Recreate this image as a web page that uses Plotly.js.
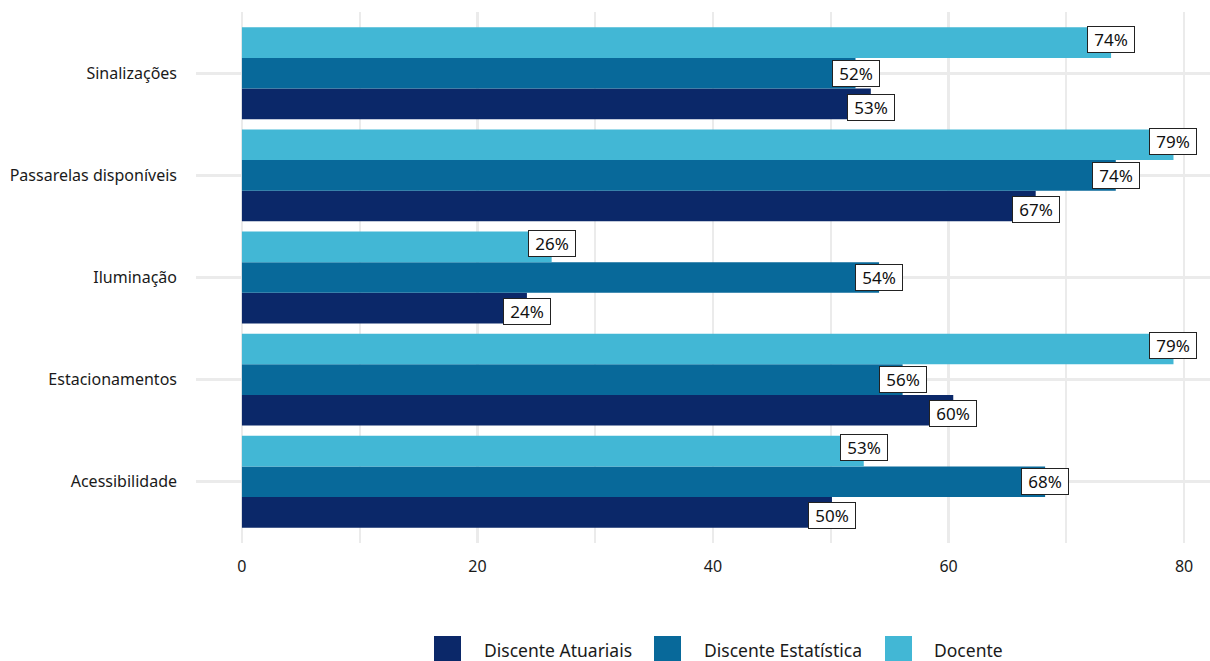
<!DOCTYPE html>
<html>
<head>
<meta charset="utf-8">
<script src="https://cdn.plot.ly/plotly-3.0.1.min.js"></script>
<style>html,body{margin:0;padding:0;background:#fff;}#chart{width:1210px;height:661px;}</style>
</head>
<body>
<div id="chart"></div>
<script>
// Data
const categories = ["Acessibilidade", "Estacionamentos", "Iluminação", "Passarelas disponíveis", "Sinalizações"];
const seriesNames = ["Discente Atuariais", "Discente Estatística", "Docente"];
const atuariais   = [50.1, 60.4, 24.2, 67.4, 53.4];
const estatistica = [68.2, 56.1, 54.1, 74.2, 52.1];
const docente     = [52.8, 79.1, 26.3, 79.1, 73.8];
const xTicks = [0, 20, 40, 60, 80];

const seriesValues = [atuariais, estatistica, docente];
const colors = ["#0b2869", "#08699a", "#42b7d5"];
const FONT = "Noto Sans, sans-serif";

const traces = seriesValues.map((vals, i) => ({
  type: "bar",
  orientation: "h",
  name: seriesNames[i],
  y: categories,
  x: vals,
  marker: {color: colors[i], line: {width: 0}},
  hoverinfo: "x+y+name",
  showlegend: false
}));

// plot area in pixels (for legend placement helpers)
const W = 1210, H = 661, ML = 196, MR = 0, MT = 12, MB = 118;
const pw = W - ML - MR, ph = H - MT - MB;
const px = v => (v - ML) / pw;
const py = v => (H - MB - v) / ph;

const annotations = [];
const offsets = [-1/3, 0, 1/3];
seriesValues.forEach((vals, i) => {
  vals.forEach((v, j) => {
    annotations.push({
      x: v, y: j + offsets[i], xref: "x", yref: "y",
      text: Math.round(v) + "%",
      showarrow: false,
      font: {family: FONT, size: 17, color: "#111"},
      bgcolor: "#ffffff",
      bordercolor: "#222",
      borderwidth: 1,
      borderpad: 3,
      width: 40, height: 19,
      xanchor: "center", yanchor: "middle"
    });
  });
});

// manual legend
const legendSquares = [434, 654, 885];
const legendText = [482, 702, 932];
const shapes = [];
seriesNames.forEach((n, i) => {
  shapes.push({
    type: "rect", xref: "paper", yref: "paper",
    x0: px(legendSquares[i]), x1: px(legendSquares[i] + 27),
    y0: py(636), y1: py(663),
    fillcolor: colors[i], line: {width: 0}, layer: "above"
  });
  annotations.push({
    xref: "paper", yref: "paper",
    x: px(legendText[i]), y: py(650),
    xanchor: "left", yanchor: "middle",
    text: n, showarrow: false,
    font: {family: FONT, size: 17.5, color: "#1a1a1a"}
  });
});

const layout = {
  width: W, height: H,
  margin: {l: ML, r: MR, t: MT, b: MB, pad: 0},
  paper_bgcolor: "#fff",
  plot_bgcolor: "#fff",
  barmode: "group",
  bargap: 0.1,
  bargroupgap: 0,
  showlegend: false,
  font: {family: FONT, color: "#1a1a1a"},
  xaxis: {
    range: [-3.9, 82.2],
    tickvals: xTicks,
    ticktext: xTicks.map(String),
    showgrid: true, gridcolor: "#ebebeb", gridwidth: 2.5,
    minor: {dtick: 10, tick0: 0, showgrid: true, gridcolor: "#ebebeb", gridwidth: 2},
    zeroline: false, showline: false, ticks: "",
    ticklabelstandoff: 12,
    tickfont: {family: FONT, size: 16, color: "#1a1a1a"},
    fixedrange: true
  },
  yaxis: {
    type: "category",
    categoryorder: "array",
    categoryarray: categories,
    range: [-0.6, 4.6],
    showgrid: true, gridcolor: "#ebebeb", gridwidth: 3,
    zeroline: false, showline: false, ticks: "",
    ticklabelstandoff: 18,
    tickfont: {family: FONT, size: 16, color: "#1a1a1a"},
    fixedrange: true
  },
  annotations: annotations,
  shapes: shapes
};

Plotly.newPlot("chart", traces, layout, {displayModeBar: false, staticPlot: true});
</script>
</body>
</html>
